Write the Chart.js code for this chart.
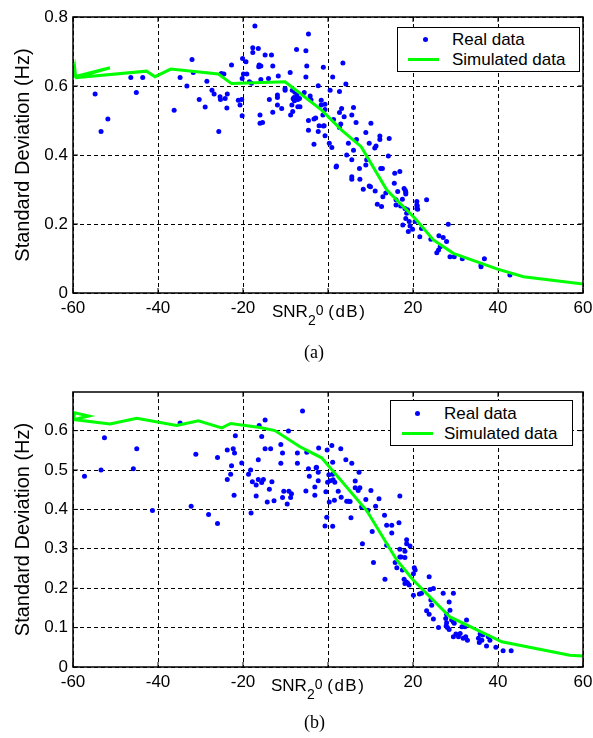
<!DOCTYPE html>
<html>
<head>
<meta charset="utf-8">
<script src="https://cdn.jsdelivr.net/npm/chart.js@4/dist/chart.umd.min.js"></script>
<style>
  body { margin:0; width:593px; height:738px; background:#fff; position:relative; overflow:hidden;
         font-family:"Liberation Sans", Arial, sans-serif; color:#000; }
  .abs { position:absolute; }
  .legend { position:absolute; border:1px solid #000; background:#fff; box-sizing:border-box; }
  .leg-text { position:absolute; font-size:17px; line-height:17px; white-space:nowrap; }
  .dot { position:absolute; width:5px; height:5px; border-radius:50%; background:#0000ff; }
  .gline { position:absolute; height:3px; background:#00ff00; }
  .xlab { position:absolute; font-size:17px; line-height:17px; white-space:nowrap; }
  .xlab .sub { position:relative; top:8px; font-size:14px; }
  .xlab .sup { position:relative; top:-2px; font-size:14px; }
  .xlab .db { letter-spacing:1.5px; }
  .cap { position:absolute; font-family:"Liberation Serif", "Times New Roman", serif; font-size:18px; line-height:18px; }
</style>
</head>
<body>
<canvas id="chartA" class="abs" style="left:0px;top:0px" width="593" height="335"></canvas>
<canvas id="chartB" class="abs" style="left:0px;top:375px" width="593" height="335"></canvas>

<div class="legend" style="left:397px;top:27px;width:183px;height:45px"></div>
<div class="dot" style="left:423px;top:37px"></div>
<div class="gline" style="left:408px;top:58px;width:31px"></div>
<div class="leg-text" style="left:452px;top:31px">Real data</div>
<div class="leg-text" style="left:452px;top:51px">Simulated data</div>

<div class="legend" style="left:390px;top:400px;width:183px;height:46px"></div>
<div class="dot" style="left:415px;top:411px"></div>
<div class="gline" style="left:402px;top:432px;width:31px"></div>
<div class="leg-text" style="left:444px;top:405px">Real data</div>
<div class="leg-text" style="left:444px;top:425px">Simulated data</div>

<div class="xlab" style="left:272px;top:303px">SNR<span class="sub">2</span><span class="sup">0</span> <span class="db">(dB)</span></div>
<div class="xlab" style="left:271px;top:677px">SNR<span class="sub">2</span><span class="sup">0</span> <span class="db">(dB)</span></div>

<div class="cap" style="left:304px;top:343px">(a)</div>
<div class="cap" style="left:304px;top:713px">(b)</div>

<script>
// x axis ticks (dB)
var xTicks = [-60, -40, -20, 0, 20, 40, 60];

// (a) measured points
var aRealX = [-54.8,-53.4,-51.8,-46.4,-45.1,-43.6,-36.2,-34.8,-33.2,-32.0,-31.7,-30.3,-28.9,-28.5,-27.3,-26.8,-25.7,-25.4,-25.3,-24.5,-25.1,-24.2,-23.8,-23.7,-22.7,
  -21.1,-20.7,-20.3,-20.2,-20.2,-20.1,-19.9,-19.3,-19.1,-18.5,-18.0,-17.7,-17.7,-17.2,-16.4,-16.3,-16.2,-16.0,-16.0,-15.8,-15.8,-15.4,-14.8,-14.0,-13.8,
  -13.3,-13.0,-13.0,-11.9,-11.9,-11.9,-11.7,-10.9,-10.1,-10.1,-8.9,-8.8,-8.5,-8.4,-8.3,-8.2,-8.0,-7.4,-7.3,-7.1,-7.1,-5.2,-4.6,-5.0,-5.2,-2.3,-1.1,1.1,0.5,
  -7.8,-7.4,-7.9,-6.7,-6.6,-5.6,-4.2,-4.0,-4.6,-4.6,-3.3,-2.9,-2.3,-2.1,-1.6,-1.6,-0.7,0.3,-1.2,-1.1,-3.3,-0.7,
  3.5,4.2,2.7,-0.7,6.0,3.2,2.7,5.6,3.8,1.3,6.6,10.1,3.0,2.7,-0.9,8.9,12.2,12.2,14.4,6.7,0.9,4.8,9.7,11.3,11.0,6.0,4.4,14.2,5.6,9.1,
  12.4,12.8,7.4,8.9,2.0,1.9,15.7,16.9,5.6,5.6,7.5,9.7,10.0,8.3,11.1,15.6,17.9,18.2,18.3,12.9,16.4,13.6,17.5,16.0,20.9,23.2,20.9,20.9,11.6,16.0,12.6,
  18.3,17.1,18.1,18.7,18.5,18.3,17.6,19.1,19.3,18.9,19.9,21.0,21.1,20.5,21.6,22.0,24.2,28.3,26.1,27.1,27.9,26.4,26.0,25.6,28.7,29.7,31.6,36.8,36.0,36.0,42.8];
var aRealY = [0.577,0.468,0.504,0.625,0.581,0.625,0.530,0.625,0.600,0.677,0.639,0.561,0.539,0.614,0.588,0.577,0.468,0.569,0.561,0.635,0.636,0.564,0.536,0.577,0.661,
  0.559,0.545,0.561,0.514,0.622,0.680,0.635,0.670,0.635,0.612,0.608,0.711,0.697,0.774,0.709,0.656,0.661,0.516,0.492,0.619,0.658,0.494,0.690,0.622,0.561,
  0.690,0.658,0.524,0.574,0.567,0.545,0.629,0.535,0.593,0.588,0.639,0.516,0.545,0.588,0.526,0.563,0.567,0.706,0.574,0.561,0.540,0.702,0.751,0.658,0.626,0.601,0.654,0.626,0.588,
  0.582,0.566,0.557,0.564,0.540,0.581,0.571,0.560,0.500,0.472,0.504,0.507,0.468,0.485,0.559,0.545,0.456,0.434,0.516,0.484,0.431,0.532,
  0.667,0.606,0.584,0.547,0.538,0.535,0.523,0.516,0.511,0.503,0.494,0.492,0.490,0.480,0.485,0.465,0.455,0.445,0.448,0.445,0.422,0.434,0.434,0.426,0.420,0.414,0.400,0.397,0.386,0.386,
  0.361,0.361,0.361,0.371,0.368,0.365,0.347,0.352,0.337,0.330,0.330,0.310,0.308,0.301,0.296,0.318,0.303,0.297,0.292,0.279,0.294,0.290,0.272,0.270,0.265,0.270,0.255,0.245,0.257,0.255,0.251,
  0.287,0.252,0.245,0.241,0.231,0.216,0.197,0.207,0.194,0.178,0.185,0.252,0.243,0.207,0.163,0.187,0.156,0.199,0.166,0.161,0.149,0.134,0.125,0.117,0.105,0.105,0.099,0.099,0.081,0.076,0.052];

// (a) simulated curve
var aSimX = [-60,-59.6,-59.4,-51.3,-59.5,-42.7,-40.7,-37,-25.8,-22.7,-10.1,-6.6,-1.5,3.2,7.8,13.8,20.5,24.8,29.5,39.9,46,60];
var aSimY = [0.628,0.652,0.628,0.653,0.624,0.643,0.627,0.649,0.635,0.607,0.612,0.579,0.53,0.472,0.424,0.299,0.216,0.154,0.115,0.069,0.047,0.026];

// (b) measured points
var bRealX = [-57.3,-53.4,-52.6,-45.8,-45.0,-41.3,-34.8,-32.2,-31.1,-28.1,-26.0,-26.0,-23.7,-23.7,-22.9,-22.7,-22.3,-22.1,-22.0,-21.8,-20.3,-18.7,-18.2,-18.1,
  -17.8,-16.9,-16.9,-16.4,-16.4,-16.2,-15.6,-15.6,-15.2,-14.8,-14.8,-14.3,-13.8,-13.5,-13.2,-12.7,-11.1,-11.1,-10.7,-10.7,-10.4,-9.6,-9.3,-9.2,-8.8,-8.6,
  -7.2,-7.2,-6.0,-5.0,-2.2,-4.6,-4.4,-2.8,-2.3,-2.3,-3.1,-3.1,-5.2,-0.5,-0.2,0.2,-0.3,-0.7,0.9,3.0,1.1,4.2,5.6,-2.7,0.5,1.2,-0.1,1.1,1.6,7.3,6.4,6.4,7.5,7.1,
  10.1,2.4,3.1,4.4,4.8,5.2,1.5,0.3,8.9,12.0,16.9,7.9,9.4,11.2,1.1,5.4,13.3,13.8,15.0,16.7,15.0,10.4,8.1,18.5,18.5,19.3,13.8,16.9,18.1,16.9,15.8,10.7,
  16.2,17.5,20.3,20.5,23.8,20.1,17.9,13.4,18.1,17.2,18.4,18.7,18.1,19.1,20.1,21.5,22.0,24.0,24.8,27.1,29.5,28.5,24.2,24.4,23.2,23.8,24.8,28.7,27.9,27.7,
  29.1,29.5,26.0,28.1,28.5,29.7,32.6,30.1,31.1,30.7,31.8,32.4,32.8,31.5,32.2,29.5,27.9,27.8,35.8,36.2,35.6,37.3,37.7,39.5,41.2,43.1,35.4,36.4,38.1];
var bRealY = [0.484,0.500,0.582,0.503,0.554,0.397,0.619,0.408,0.540,0.387,0.532,0.364,0.551,0.476,0.489,0.511,0.554,0.436,0.543,0.587,0.518,0.489,0.500,0.391,
  0.470,0.462,0.434,0.526,0.476,0.613,0.585,0.468,0.476,0.627,0.554,0.419,0.451,0.554,0.470,0.422,0.565,0.517,0.543,0.430,0.446,0.414,0.599,0.446,0.430,0.440,
  0.543,0.517,0.650,0.545,0.556,0.503,0.484,0.506,0.494,0.473,0.457,0.436,0.447,0.445,0.551,0.488,0.380,0.358,0.562,0.554,0.520,0.526,0.517,0.507,0.473,0.475,0.469,0.489,0.469,0.494,0.472,0.455,0.455,0.448,
  0.448,0.446,0.431,0.421,0.421,0.420,0.423,0.419,0.425,0.427,0.434,0.406,0.398,0.408,0.357,0.379,0.385,0.360,0.360,0.366,0.340,0.344,0.313,0.323,0.313,0.307,0.309,0.299,0.294,0.279,0.265,0.265,
  0.252,0.246,0.252,0.246,0.229,0.237,0.223,0.223,0.278,0.279,0.216,0.213,0.212,0.208,0.182,0.185,0.187,0.197,0.199,0.187,0.187,0.165,0.170,0.157,0.143,0.134,0.122,0.144,0.134,0.123,
  0.119,0.115,0.100,0.100,0.095,0.111,0.119,0.084,0.085,0.077,0.073,0.077,0.068,0.102,0.102,0.077,0.112,0.104,0.084,0.068,0.062,0.053,0.077,0.050,0.041,0.041,0.073,0.081,0.068];

// (b) simulated curve
var bSimX = [-60,-59.6,-56.3,-59.8,-51.3,-45,-35.6,-30.5,-25,-22.9,-16,-12.5,-6.6,-1.5,9.1,16.2,20.1,28.7,40.9,56.9,60];
var bSimY = [0.625,0.645,0.637,0.628,0.617,0.631,0.613,0.625,0.607,0.618,0.608,0.6,0.559,0.531,0.397,0.271,0.22,0.127,0.064,0.03,0.028];

function pts(xs, ys) {
  return xs.map(function(x, i) { return {x: x, y: ys[i]}; });
}

// black box round the plot with small inner ticks, like matlab axes
var boxPlugin = {
  id: 'box',
  afterDraw: function(chart) {
    var ctx = chart.ctx, a = chart.chartArea;
    var xs = chart.scales.x, ys = chart.scales.y;
    ctx.save();
    ctx.strokeStyle = '#000';
    ctx.lineWidth = 1;
    ctx.beginPath();
    xs.ticks.forEach(function(t) {
      var p = xs.getPixelForValue(t.value);
      ctx.moveTo(p, a.bottom); ctx.lineTo(p, a.bottom - 5);
      ctx.moveTo(p, a.top); ctx.lineTo(p, a.top + 5);
    });
    ys.ticks.forEach(function(t) {
      var p = ys.getPixelForValue(t.value);
      ctx.moveTo(a.left, p); ctx.lineTo(a.left + 5, p);
      ctx.moveTo(a.right, p); ctx.lineTo(a.right - 5, p);
    });
    ctx.stroke();
    ctx.lineWidth = 1.5;
    ctx.strokeRect(a.left, a.top, a.right - a.left, a.bottom - a.top);
    ctx.restore();
  }
};

function makeChart(id, realX, realY, simX, simY, yMax, yStep, plotBottom) {
  var canvasH = 335;
  return new Chart(document.getElementById(id), {
    type: 'scatter',
    data: {
      datasets: [
        {
          label: 'Simulated data',
          data: pts(simX, simY),
          showLine: true,
          borderColor: '#00ff00',
          borderWidth: 3,
          pointRadius: 0,
          tension: 0,
          fill: false
        },
        {
          label: 'Real data',
          data: pts(realX, realY),
          backgroundColor: '#0000ff',
          borderWidth: 0,
          pointRadius: 2.5
        }
      ]
    },
    options: {
      responsive: false,
      animation: false,
      layout: { padding: { left: 0, top: 17, right: 10, bottom: 0 } },
      plugins: { legend: { display: false }, tooltip: { enabled: false } },
      scales: {
        x: {
          type: 'linear',
          min: -60, max: 60,
          afterBuildTicks: function(s) { s.ticks = xTicks.map(function(v) { return {value: v}; }); },
          afterFit: function(s) {
            s.height = canvasH - plotBottom;
            s.paddingLeft = 0;
            s.paddingRight = 0;
          },
          ticks: {
            color: '#000',
            font: { family: 'Liberation Sans', size: 17 },
            padding: 5,
            maxRotation: 0,
            autoSkip: false,
            callback: function(v) { return v === 0 ? '' : v; }
          },
          grid: { color: '#000', lineWidth: 1, drawTicks: false },
          border: { display: false, dash: [4, 3] }
        },
        y: {
          type: 'linear',
          min: 0, max: yMax,
          afterFit: function(s) { s.width = 73; },
          ticks: {
            stepSize: yStep,
            includeBounds: false,
            color: '#000',
            font: { family: 'Liberation Sans', size: 17 },
            padding: 5,
            callback: function(v) { return v === 0 ? '0' : (Math.round(v * 10) / 10).toString(); }
          },
          grid: { color: '#000', lineWidth: 1, drawTicks: false },
          border: { display: false, dash: [4, 3] },
          title: {
            display: true,
            text: 'Standard Deviation (Hz)',
            color: '#000',
            font: { family: 'Liberation Sans', size: 20, weight: 'normal' },
            padding: { top: 11, bottom: 0 }
          }
        }
      }
    },
    plugins: [boxPlugin]
  });
}

makeChart('chartA', aRealX, aRealY, aSimX, aSimY, 0.8, 0.2, 293);
makeChart('chartB', bRealX, bRealY, bSimX, bSimY, 0.698, 0.1, 292);
</script>
</body>
</html>
